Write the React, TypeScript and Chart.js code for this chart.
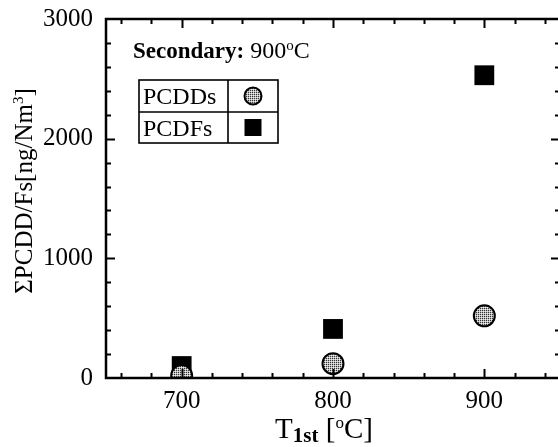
import React, { useEffect, useRef } from "react";
import { Chart, registerables } from "chart.js";

Chart.register(...registerables);

const temperatures = [700, 800, 900];
const pcdds = [20, 120, 520];
const pcdfs = [100, 410, 2530];
const xTickValues = [700, 800, 900];
const yTickValues = [0, 1000, 2000, 3000];
const seriesLabels = ["PCDDs", "PCDFs"];
const annotation = { bold: "Secondary:", normal: " 900", sup: "o", tail: "C" };

const SERIF = "'Liberation Serif', 'Times New Roman', serif";

function makePattern(): CanvasPattern | string {
  const c = document.createElement("canvas");
  c.width = 2;
  c.height = 2;
  const g = c.getContext("2d");
  if (!g) return "#999";
  g.fillStyle = "#bdbdbd";
  g.fillRect(0, 0, 2, 2);
  g.fillStyle = "#333";
  g.fillRect(0, 0, 1, 1);
  g.fillStyle = "#eeeeee";
  g.fillRect(1, 1, 1, 1);
  const ctx = document.createElement("canvas").getContext("2d");
  return (ctx && ctx.createPattern(c, "repeat")) || "#999";
}

type Seg = { t: string; font: string; dy?: number };

function drawSegs(ctx: CanvasRenderingContext2D, segs: Seg[], x: number, y: number, align: "left" | "center") {
  let total = 0;
  for (const s of segs) {
    ctx.font = s.font;
    total += ctx.measureText(s.t).width;
  }
  let cx = align === "center" ? x - total / 2 : x;
  ctx.textAlign = "left";
  ctx.textBaseline = "alphabetic";
  for (const s of segs) {
    ctx.font = s.font;
    ctx.fillText(s.t, cx, y + (s.dy || 0));
    cx += ctx.measureText(s.t).width;
  }
}

const decorPlugin = {
  id: "decor",
  afterDatasetsDraw(chart: any) {
    const { ctx, chartArea: a, scales } = chart;
    const xs = scales.x;
    const ys = scales.y;
    ctx.save();
    ctx.strokeStyle = "#000";
    ctx.fillStyle = "#000";
    // frame
    ctx.lineWidth = 2.5;
    ctx.strokeRect(a.left, a.top, a.right - a.left, a.bottom - a.top);
    // inward ticks
    ctx.lineWidth = 2;
    for (let v = 660; v <= 940; v += 20) {
      const px = Math.round(xs.getPixelForValue(v)) + 0.5;
      const len = v % 100 === 0 ? 9 : 5;
      ctx.beginPath();
      ctx.moveTo(px, a.bottom);
      ctx.lineTo(px, a.bottom - len);
      ctx.moveTo(px, a.top);
      ctx.lineTo(px, a.top + len);
      ctx.stroke();
    }
    for (let v = 200; v <= 2800; v += 200) {
      const py = Math.round(ys.getPixelForValue(v)) + 0.5;
      const len = v % 1000 === 0 ? 9 : 5;
      ctx.beginPath();
      ctx.moveTo(a.left, py);
      ctx.lineTo(a.left + len, py);
      ctx.moveTo(a.right, py);
      ctx.lineTo(a.right - len, py);
      ctx.stroke();
    }
    // annotation
    drawSegs(
      ctx,
      [
        { t: annotation.bold, font: `bold 23px ${SERIF}` },
        { t: annotation.normal, font: `24px ${SERIF}` },
        { t: annotation.sup, font: `15px ${SERIF}`, dy: -8 },
        { t: annotation.tail, font: `24px ${SERIF}` },
      ],
      133,
      58,
      "left"
    );
    // legend table
    const L = 139, T = 80, R = 278, B = 143, MID = 112, COL = 228;
    ctx.lineWidth = 1.6;
    ctx.strokeRect(L, T, R - L, B - T);
    ctx.beginPath();
    ctx.moveTo(L, MID);
    ctx.lineTo(R, MID);
    ctx.moveTo(COL, T);
    ctx.lineTo(COL, B);
    ctx.stroke();
    ctx.font = `24px ${SERIF}`;
    ctx.textAlign = "left";
    ctx.textBaseline = "alphabetic";
    ctx.fillText(seriesLabels[0], 143, 104);
    ctx.fillText(seriesLabels[1], 143, 136);
    const ds0 = chart.data.datasets[0];
    const ds1 = chart.data.datasets[1];
    const mx = (COL + R) / 2;
    ctx.beginPath();
    ctx.arc(mx, (T + MID) / 2, 8.5, 0, Math.PI * 2);
    ctx.fillStyle = ds0.backgroundColor;
    ctx.fill();
    ctx.lineWidth = 2;
    ctx.strokeStyle = "#000";
    ctx.stroke();
    ctx.fillStyle = ds1.backgroundColor;
    ctx.fillRect(mx - 8.5, (MID + B) / 2 - 8.5, 17, 17);
    // x title
    ctx.fillStyle = "#000";
    drawSegs(
      ctx,
      [
        { t: "T", font: `29px ${SERIF}` },
        { t: "1st", font: `bold 21px ${SERIF}`, dy: 4 },
        { t: " [", font: `29px ${SERIF}` },
        { t: "o", font: `17px ${SERIF}`, dy: -10 },
        { t: "C]", font: `29px ${SERIF}` },
      ],
      324,
      438,
      "center"
    );
    // y title
    ctx.save();
    ctx.translate(32, 191);
    ctx.rotate(-Math.PI / 2);
    drawSegs(
      ctx,
      [
        { t: "ΣPCDD/Fs[ng/Nm", font: `25px ${SERIF}` },
        { t: "3", font: `15px ${SERIF}`, dy: -9 },
        { t: "]", font: `25px ${SERIF}` },
      ],
      0,
      0,
      "center"
    );
    ctx.restore();
    ctx.restore();
  },
};

export default function App() {
  const ref = useRef<HTMLCanvasElement>(null);
  useEffect(() => {
    if (!ref.current) return;
    const pattern = makePattern();
    const chart = new Chart(ref.current, {
      type: "scatter",
      data: {
        datasets: [
          {
            label: seriesLabels[0],
            data: temperatures.map((t, i) => ({ x: t, y: pcdds[i] })),
            pointStyle: "circle",
            pointRadius: 10.5,
            pointHoverRadius: 10.5,
            backgroundColor: pattern as any,
            borderColor: "#000",
            borderWidth: 2,
          },
          {
            label: seriesLabels[1],
            data: temperatures.map((t, i) => ({ x: t, y: pcdfs[i] })),
            pointStyle: "rect",
            pointRadius: 14,
            pointHoverRadius: 14,
            backgroundColor: "#000",
            borderColor: "#000",
            borderWidth: 0,
          },
        ],
      },
      options: {
        responsive: false,
        animation: false,
        devicePixelRatio: 1,
        layout: { padding: { left: 0, top: 19, right: 1, bottom: 0 } },
        plugins: { legend: { display: false }, tooltip: { enabled: false } },
        scales: {
          x: {
            type: "linear",
            min: 650,
            max: 950,
            grid: { display: false, drawTicks: false },
            border: { display: false },
            afterBuildTicks: (s: any) => {
              s.ticks = xTickValues.map((v) => ({ value: v }));
            },
            afterFit: (s: any) => {
              s.height = 69;
              s.paddingLeft = 0;
              s.paddingRight = 0;
            },
            ticks: {
              color: "#000",
              font: { family: SERIF, size: 25 },
              padding: 8,
              maxRotation: 0,
              autoSkip: false,
              callback: (v: any) => String(v),
            },
          },
          y: {
            type: "linear",
            min: 0,
            max: 3000,
            grid: { display: false, drawTicks: false },
            border: { display: false },
            afterBuildTicks: (s: any) => {
              s.ticks = yTickValues.map((v) => ({ value: v }));
            },
            afterFit: (s: any) => {
              s.width = 106;
              s.paddingTop = 0;
              s.paddingBottom = 0;
            },
            ticks: {
              color: "#000",
              font: { family: SERIF, size: 25 },
              padding: 13,
              autoSkip: false,
              callback: (v: any) => String(v),
            },
          },
        },
      },
      plugins: [decorPlugin],
    });
    return () => chart.destroy();
  }, []);
  return (
    <div
      style={{
        position: "fixed",
        left: 0,
        top: 0,
        width: 558,
        height: 447,
        overflow: "hidden",
        background: "#fff",
      }}
    >
      <canvas ref={ref} width={574} height={447} style={{ display: "block" }} />
    </div>
  );
}
